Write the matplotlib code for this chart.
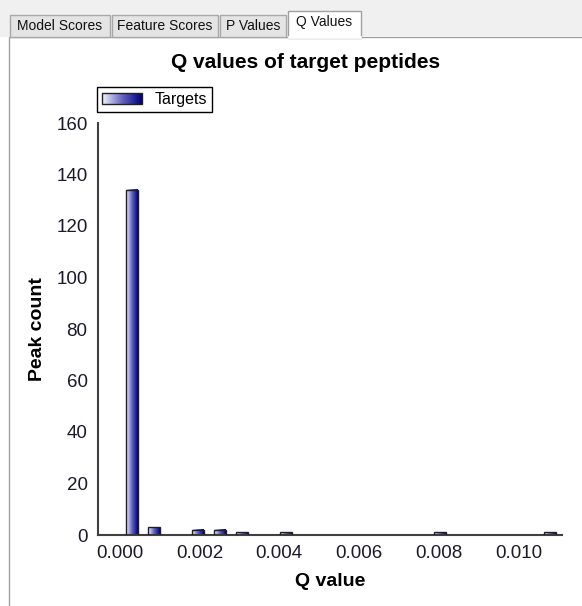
import matplotlib
matplotlib.use('Agg')
import matplotlib.pyplot as plt
import numpy as np
from matplotlib.colors import LinearSegmentedColormap
from matplotlib.patches import Rectangle
from matplotlib.legend_handler import HandlerBase
from matplotlib.image import BboxImage
from matplotlib.transforms import Bbox, TransformedBbox

# data to plot
q_bins = [0.00030, 0.00085, 0.00196, 0.00251, 0.00306, 0.00416, 0.00803, 0.01079]
peak_counts = [134, 3, 2, 2, 1, 1, 1, 1]
x_ticks = [0.000, 0.002, 0.004, 0.006, 0.008, 0.010]
y_ticks = [0, 20, 40, 60, 80, 100, 120, 140, 160]
tab_names = ['Model Scores', 'Feature Scores', 'P Values', 'Q Values']

plt.rcParams['font.family'] = ['Liberation Sans', 'DejaVu Sans']

W, H = 582, 606
fig = plt.figure(figsize=(W / 100, H / 100), dpi=100)
fig.patch.set_facecolor('white')

# window chrome (tabs) in pixel coordinates
bg = fig.add_axes([0, 0, 1, 1])
bg.set_xlim(0, W)
bg.set_ylim(H, 0)
bg.axis('off')
bg.add_patch(Rectangle((0, 0), W, 37, fc='#f0f0f0', ec='none'))
tab_x = [(10, 110), (112, 218), (220, 286), (288, 361)]
for (x0, x1), name in zip(tab_x, tab_names):
    if name == 'Q Values':
        bg.add_patch(Rectangle((x0, 11), x1 - x0, 27, fc='white', ec='#a0a0a0', lw=1))
        bg.text((x0 + x1) / 2, 22, name, ha='center', va='center', fontsize=10, color='#111111')
    else:
        bg.add_patch(Rectangle((x0, 15), x1 - x0, 22, fc='#e4e4e4', ec='#a8a8a8', lw=1))
        bg.text((x0 + x1) / 2, 26, name, ha='center', va='center', fontsize=10, color='#111111')
bg.add_patch(Rectangle((9, 37), W, H, fc='white', ec='#a0a0a0', lw=1, zorder=0.5))
bg.plot([289, 360], [37, 37], color='white', lw=2, zorder=3)

cmap = LinearSegmentedColormap.from_list('grad', ['#f4f4ff', '#6666c0', '#000080'])
grad = np.linspace(0, 1, 64).reshape(1, -1)


class GradHandler(HandlerBase):
    def create_artists(self, legend, orig_handle, xdescent, ydescent,
                       width, height, fontsize, trans):
        bb = TransformedBbox(Bbox.from_bounds(-xdescent, -ydescent, width, height), trans)
        img = BboxImage(bb, cmap=cmap, interpolation='bilinear')
        img.set_data(grad)
        rect = Rectangle((-xdescent, -ydescent), width, height, fc='none',
                         ec='#202020', lw=1, transform=trans)
        return [img, rect]


ax = fig.add_axes([98 / W, (H - 535) / H, (562 - 98) / W, (535 - 123) / H])
ax.set_facecolor('none')
bar_width = 0.0003
bars = ax.bar(q_bins, peak_counts, bar_width, facecolor='none',
              edgecolor='#202020', linewidth=1, zorder=3, label='Targets')
for r in bars:
    x0, y0 = r.get_x(), r.get_y()
    ax.imshow(grad, cmap=cmap, aspect='auto', interpolation='bilinear',
              extent=[x0, x0 + r.get_width(), y0, y0 + r.get_height()], zorder=2)

ax.set_xlim(-0.000544, 0.01109)
ax.set_ylim(0, 160)
ax.set_xticks(x_ticks)
ax.set_xticklabels(['%.3f' % v for v in x_ticks])
ax.set_yticks(y_ticks)
ax.tick_params(length=0, labelsize=13.5, labelcolor='#1a1a2a')
ax.tick_params(axis='y', pad=7.5)
ax.tick_params(axis='x', pad=7.5)
for s in ['top', 'right']:
    ax.spines[s].set_visible(False)
for s in ['left', 'bottom']:
    ax.spines[s].set_color('#404040')
    ax.spines[s].set_linewidth(1.5)

ax.set_xlabel('Q value', fontsize=14, fontweight='bold', va='center')
ax.xaxis.set_label_coords(0.5, (535 - 582) / 412)
ax.set_ylabel('Peak count', fontsize=14, fontweight='bold', va='center', ha='center')
ax.yaxis.set_label_coords((37 - 98) / 464, 0.5)

fig.text(306 / W, 1 - 62 / H, 'Q values of target peptides', ha='center', va='center',
         fontsize=15, fontweight='bold')

leg = ax.legend(handles=[bars], labels=['Targets'], handler_map={type(bars): GradHandler()},
                loc='lower left', bbox_to_anchor=(97 / W, 1 - 112 / H),
                bbox_transform=fig.transFigure, borderaxespad=0, fancybox=False,
                framealpha=1, edgecolor='black', fontsize=11.5, handlelength=2.5,
                handleheight=0.65, borderpad=0.3, handletextpad=0.8)
leg.get_frame().set_linewidth(1)

fig.savefig('out.png', dpi=100)
